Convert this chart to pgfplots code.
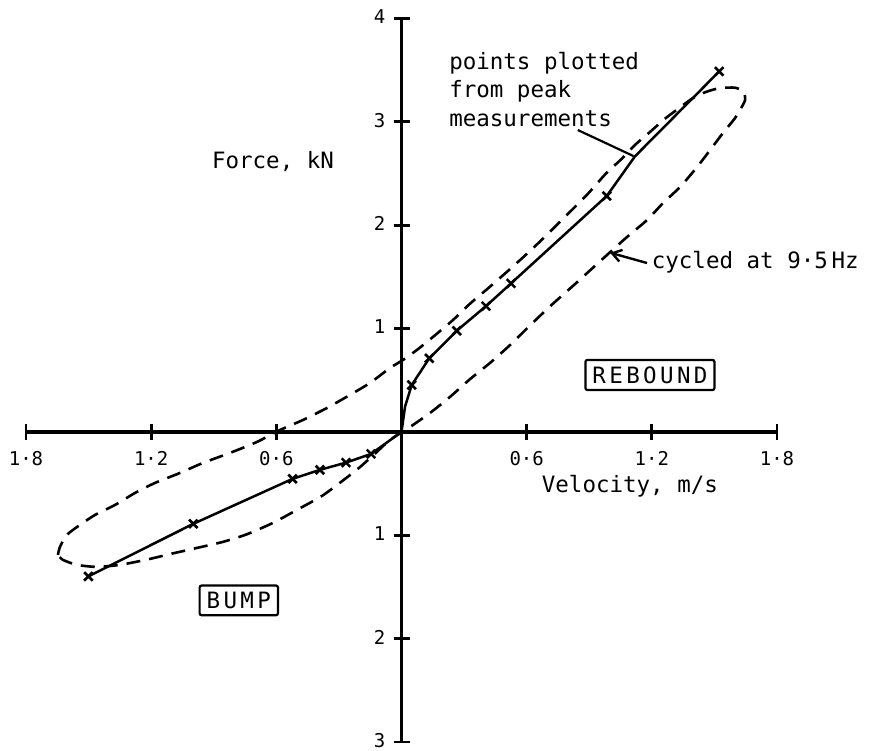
\documentclass[border=0pt]{standalone}
\usepackage{pgfplots}
\pgfplotsset{compat=1.18}
\usepackage{fontspec}
\setmainfont{DejaVu Sans Mono}
\newfontfamily\boxfont{DejaVu Sans Mono}[LetterSpace=15.0]
\usetikzlibrary{arrows.meta}

\begin{document}
\begin{tikzpicture}
\useasboundingbox (-26pt,-9pt) rectangle (851pt,742pt);
\begin{axis}[
  at={(0pt,0pt)}, anchor=south west,
  scale only axis, width=751pt, height=723.5pt,
  xmin=-1.8, xmax=1.8, ymin=-3, ymax=4,
  axis lines=middle,
  axis line style={line width=3.2pt, -},
  enlargelimits=false,
  clip=false,
  xtick={-1.8,-1.2,-0.6,0.6,1.2,1.8},
  xticklabels={1·8,1·2,0·6,0·6,1·2,1·8},
  ytick={-3,-2,-1,1,2,3,4},
  yticklabels={3,2,1,1,2,3,4},
  tick align=center,
  major tick length=16pt,
  tick style={line width=2.8pt, black},
  ticklabel style={font=\fontsize{19}{23}\selectfont, inner sep=0pt},
  xticklabel style={anchor=north, yshift=-11pt},
  yticklabel style={anchor=east, xshift=-8pt, yshift=1.5pt},
]
% hysteresis loop (cycled at 9.5 Hz)
\addplot[line width=2.6pt, dash pattern=on 14pt off 9pt, smooth, tension=0.4] coordinates {
(-1.647,-1.190) (-1.637,-1.112) (-1.604,-0.996) (-1.541,-0.899) (-1.469,-0.803)
(-1.373,-0.706) (-1.277,-0.590) (-1.181,-0.493) (-1.062,-0.397) (-0.952,-0.300)
(-0.822,-0.203) (-0.693,-0.097) (-0.582,0.019) (-0.472,0.116) (-0.357,0.232)
(-0.247,0.358) (-0.151,0.474) (-0.055,0.619) (0.007,0.696) (0.074,0.793)
(0.151,0.919) (0.247,1.083) (0.328,1.240) (0.424,1.405) (0.520,1.575)
(0.602,1.725) (0.678,1.870) (0.808,2.130) (0.894,2.305) (0.980,2.500)
(1.057,2.645) (1.119,2.776) (1.190,2.900) (1.263,3.030) (1.335,3.140)
(1.397,3.230) (1.460,3.290) (1.527,3.327) (1.600,3.330) (1.640,3.290)
(1.647,3.211) (1.628,3.133) (1.599,3.037)
(1.541,2.892) (1.479,2.727) (1.417,2.563) (1.335,2.369) (1.254,2.215)
(1.177,2.050) (1.081,1.886) (0.990,1.721) (0.932,1.615) (0.832,1.431)
(0.712,1.215) (0.616,1.030) (0.520,0.840) (0.424,0.667) (0.328,0.510)
(0.232,0.338) (0.137,0.184) (0.041,0.048) (-0.055,-0.077) (-0.127,-0.210)
(-0.199,-0.340) (-0.271,-0.455) (-0.381,-0.619) (-0.501,-0.754) (-0.616,-0.880)
(-0.741,-0.990) (-0.856,-1.064) (-0.980,-1.122) (-1.095,-1.175) (-1.220,-1.235)
(-1.349,-1.286) (-1.460,-1.306) (-1.556,-1.286) (-1.623,-1.238) (-1.647,-1.190)
};
% peak measurements: line
\addplot[line width=2.5pt, no marks] coordinates {
(-1.501,-1.398) (-0.998,-0.889) (-0.522,-0.454) (-0.391,-0.367) (-0.266,-0.297)
(-0.146,-0.213) (0,0) (0.017,0.245) (0.049,0.454) (0.133,0.712) (0.265,0.979)
(0.405,1.217) (0.525,1.437) (0.984,2.283) (1.119,2.666) (1.523,3.488)
};
% peak measurements: points
\addplot[only marks, mark=x, mark size=6pt, mark options={line width=2.6pt}] coordinates {
(-1.501,-1.398) (-0.998,-0.889) (-0.522,-0.454) (-0.391,-0.367) (-0.266,-0.297)
(-0.146,-0.213) (0.049,0.454) (0.133,0.712) (0.265,0.979)
(0.405,1.217) (0.525,1.437) (0.984,2.283) (1.523,3.488)
};
% annotations
\node[anchor=center, inner sep=0pt, font=\fontsize{22.5}{27}\selectfont] at (axis cs:-0.616,2.616) {Force, kN};
\node[anchor=center, inner sep=0pt, font=\fontsize{22.5}{27}\selectfont] at (axis cs:1.095,-0.522) {Velocity, m/s};
\node[anchor=west, align=left, inner sep=0pt, font=\fontsize{22.5}{28.5}\selectfont] at (axis cs:0.228,3.317) {points plotted\\from peak\\measurements};
\draw[line width=2.2pt] (axis cs:0.845,2.921) -- (axis cs:1.112,2.669);
\draw[line width=2.4pt, -{Straight Barb[length=9pt, width=12pt, line width=2.4pt]}] (axis cs:1.177,1.634) -- (axis cs:1.0,1.734);
\node[anchor=west, inner sep=0pt, font=\fontsize{22.5}{27}\selectfont] at (axis cs:1.199,1.644) {cycled at 9·5\,Hz};
\node[draw, line width=2.2pt, rounded corners=2pt, inner xsep=7pt, inner ysep=6.5pt, font=\boxfont\fontsize{22.5}{27}\selectfont] at (axis cs:1.191,0.551) {REBOUND};
\node[draw, line width=2.2pt, rounded corners=2pt, inner xsep=7pt, inner ysep=6.5pt, font=\boxfont\fontsize{22.5}{27}\selectfont] at (axis cs:-0.780,-1.630) {BUMP};
\end{axis}
\end{tikzpicture}
\end{document}
